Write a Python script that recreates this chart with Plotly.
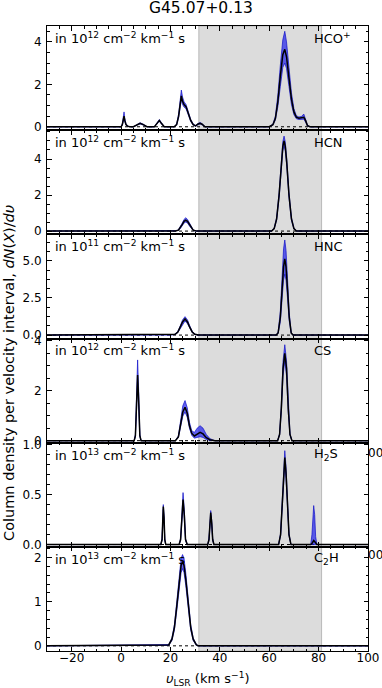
import plotly.graph_objects as go
from plotly.subplots import make_subplots

# velocity axis and panel labels
title = "G45.07+0.13"
molecules = ["HCO<sup>+</sup>", "HCN", "HNC", "CS", "H<sub>2</sub>S", "C<sub>2</sub>H"]
exponents = [12, 12, 11, 12, 13, 13]
band_v = [31.5, 81.2]

# HCO+
hcop_v = [-30, 0.0, 0.5, 0.9, 1.2, 1.5, 2.0, 2.6, 3.5, 5.0, 6.5, 7.7, 9.0, 10.5, 13.5, 14.6, 15.5, 16.4, 17.5,
          21.5, 22.5, 23.3, 23.9, 24.4, 24.9, 25.5, 26.3, 27.2, 28.2, 29.2, 30.2, 31.2, 32.0, 32.8, 34.0,
          60.0, 61.5, 62.5, 63.5, 64.5, 65.5, 66.3, 67.0, 68.0, 69.0, 70.0, 71.0, 72.0, 73.0, 74.0, 74.7, 75.5, 76.5, 100]
hcop_mid = [0, 0, 0.1, 0.35, 0.5, 0.3, 0.1, 0.03, 0, 0, 0.1, 0.16, 0.1, 0, 0, 0.15, 0.3, 0.15, 0,
            0, 0.1, 0.5, 1.1, 1.46, 1.2, 1.05, 0.95, 0.6, 0.3, 0.1, 0.04, 0.13, 0.16, 0.12, 0,
            0, 0.1, 0.4, 1.2, 2.4, 3.4, 3.65, 3.3, 2.3, 1.3, 0.7, 0.45, 0.4, 0.42, 0.45, 0.3, 0.05, 0, 0]
hcop_hi = [0, 0, 0.15, 0.5, 0.7, 0.4, 0.14, 0.04, 0, 0, 0.12, 0.19, 0.12, 0, 0, 0.18, 0.34, 0.18, 0,
           0, 0.13, 0.6, 1.35, 1.73, 1.4, 1.18, 1.05, 0.68, 0.35, 0.13, 0.06, 0.16, 0.2, 0.15, 0,
           0, 0.13, 0.5, 1.5, 2.9, 4.1, 4.5, 4.0, 2.8, 1.6, 0.85, 0.52, 0.46, 0.48, 0.6, 0.38, 0.08, 0, 0]
hcop_lo = [0, 0, 0.07, 0.27, 0.4, 0.24, 0.07, 0.02, 0, 0, 0.08, 0.13, 0.08, 0, 0, 0.12, 0.26, 0.12, 0,
           0, 0.08, 0.42, 0.95, 1.28, 1.05, 0.93, 0.85, 0.52, 0.25, 0.08, 0.02, 0.1, 0.13, 0.09, 0,
           0, 0.08, 0.32, 0.95, 1.9, 2.8, 3.0, 2.75, 1.9, 1.05, 0.57, 0.38, 0.34, 0.36, 0.36, 0.22, 0.03, 0, 0]

# HCN
hcn_v = [-30, 22.0, 23.2, 24.1, 24.8, 25.5, 26.2, 26.9, 27.6, 28.3, 29.2, 30.4,
         61.0, 62.0, 63.0, 64.0, 64.9, 65.5, 66.0, 66.5, 67.1, 68.0, 69.0, 70.0, 71.0, 100]
hcn_mid = [0, 0, 0.05, 0.2, 0.37, 0.54, 0.61, 0.54, 0.37, 0.2, 0.05, 0,
           0, 0.14, 0.68, 2.0, 3.8, 4.7, 5.0, 4.7, 3.8, 2.0, 0.68, 0.14, 0, 0]
hcn_hi = [0, 0, 0.07, 0.25, 0.45, 0.65, 0.74, 0.65, 0.45, 0.25, 0.07, 0,
          0, 0.17, 0.75, 2.15, 4.0, 4.95, 5.27, 4.95, 4.0, 2.15, 0.75, 0.17, 0, 0]
hcn_lo = [0, 0, 0.03, 0.16, 0.3, 0.45, 0.5, 0.45, 0.3, 0.16, 0.03, 0,
          0, 0.11, 0.6, 1.85, 3.6, 4.45, 4.75, 4.45, 3.6, 1.85, 0.6, 0.11, 0, 0]

# HNC
hnc_v = [-30, 20.5, 21.9, 23.0, 24.0, 24.9, 25.9, 26.9, 27.8, 28.8, 29.9, 31.3,
         62.8, 63.6, 64.5, 65.2, 65.8, 66.3, 66.8, 67.4, 68.1, 68.9, 69.6, 100]
hnc_mid = [0, 0, 0.05, 0.21, 0.53, 0.88, 1.08, 0.88, 0.53, 0.21, 0.05, 0,
           0, 0.14, 1.2, 3.1, 4.6, 5.13, 4.6, 3.1, 1.2, 0.14, 0, 0]
hnc_hi = [0, 0, 0.07, 0.26, 0.63, 1.02, 1.24, 1.02, 0.63, 0.26, 0.07, 0,
          0, 0.2, 1.6, 4.0, 5.8, 6.4, 5.7, 3.8, 1.5, 0.2, 0, 0]
hnc_lo = [0, 0, 0.03, 0.17, 0.45, 0.76, 0.95, 0.76, 0.45, 0.17, 0.03, 0,
          0, 0.1, 0.9, 2.4, 3.7, 4.1, 3.7, 2.5, 0.95, 0.1, 0, 0]

# CS
cs_v = [-30, 5.3, 5.8, 6.2, 6.7, 7.2, 7.6, 8.1,
        22.0, 23.2, 24.2, 25.0, 25.9, 26.8, 27.7, 28.6, 29.7, 30.8, 32.0, 33.2, 34.5, 36.0, 38.0,
        63.4, 64.2, 64.9, 65.6, 66.3, 67.0, 67.7, 68.4, 69.2, 100]
cs_mid = [0, 0, 0.2, 1.4, 2.63, 1.4, 0.2, 0,
          0, 0.15, 0.65, 1.15, 1.34, 1.1, 0.6, 0.3, 0.19, 0.27, 0.33, 0.27, 0.12, 0.04, 0,
          0, 0.25, 1.3, 2.9, 3.5, 2.9, 1.3, 0.25, 0, 0]
cs_hi = [0, 0, 0.25, 1.75, 3.24, 1.75, 0.25, 0,
         0, 0.19, 0.8, 1.4, 1.61, 1.32, 0.74, 0.4, 0.33, 0.5, 0.6, 0.5, 0.25, 0.08, 0,
         0, 0.28, 1.45, 3.2, 3.85, 3.2, 1.45, 0.28, 0, 0]
cs_lo = [0, 0, 0.16, 1.2, 2.3, 1.2, 0.16, 0,
         0, 0.12, 0.55, 0.98, 1.15, 0.94, 0.5, 0.22, 0.1, 0.13, 0.16, 0.13, 0.05, 0.01, 0,
         0, 0.22, 1.15, 2.6, 3.2, 2.6, 1.15, 0.22, 0, 0]

# H2S
h2s_v = [-30, 16.1, 16.6, 16.9, 17.1, 17.4, 17.7, 18.1,
         23.5, 24.1, 24.6, 25.1, 25.6, 26.1, 26.8,
         35.1, 35.6, 36.0, 36.3, 36.7, 37.1, 37.6,
         63.8, 64.6, 65.3, 65.8, 66.3, 66.8, 67.3, 68.0, 68.8,
         76.8, 77.3, 77.7, 78.0, 78.4, 78.8, 79.3, 100]
h2s_mid = [0, 0, 0.05, 0.27, 0.38, 0.27, 0.05, 0,
           0, 0.05, 0.3, 0.45, 0.3, 0.05, 0,
           0, 0.05, 0.24, 0.32, 0.22, 0.05, 0,
           0, 0.1, 0.42, 0.72, 0.87, 0.72, 0.42, 0.1, 0,
           0, 0.01, 0.03, 0.04, 0.03, 0.01, 0, 0]
h2s_hi = [0, 0, 0.06, 0.29, 0.4, 0.29, 0.06, 0,
          0, 0.06, 0.35, 0.52, 0.35, 0.06, 0,
          0, 0.06, 0.26, 0.34, 0.24, 0.06, 0,
          0, 0.11, 0.46, 0.78, 0.94, 0.78, 0.46, 0.11, 0,
          0, 0.1, 0.3, 0.39, 0.3, 0.08, 0, 0]
h2s_lo = [0, 0, 0.04, 0.25, 0.35, 0.25, 0.04, 0,
          0, 0.04, 0.26, 0.4, 0.26, 0.04, 0,
          0, 0.04, 0.22, 0.29, 0.2, 0.04, 0,
          0, 0.09, 0.38, 0.66, 0.8, 0.66, 0.38, 0.09, 0,
          0, 0, 0, 0, 0, 0, 0, 0]

# C2H
c2h_v = [-30, 19.3, 20.6, 21.6, 22.6, 23.6, 24.3, 24.9, 25.5, 26.2, 27.2, 28.2, 29.2, 30.5, 31.5, 100]
c2h_mid = [0, 0.02, 0.15, 0.42, 0.92, 1.51, 1.82, 1.91, 1.82, 1.51, 0.92, 0.42, 0.15, 0.02, 0, 0]
c2h_hi = [0, 0.03, 0.18, 0.48, 1.02, 1.65, 1.98, 2.07, 1.98, 1.65, 1.02, 0.48, 0.18, 0.03, 0, 0]
c2h_lo = [0, 0.01, 0.12, 0.36, 0.82, 1.37, 1.66, 1.75, 1.66, 1.37, 0.82, 0.36, 0.12, 0.01, 0, 0]

panels = [
    (hcop_v, hcop_mid, hcop_lo, hcop_hi),
    (hcn_v, hcn_mid, hcn_lo, hcn_hi),
    (hnc_v, hnc_mid, hnc_lo, hnc_hi),
    (cs_v, cs_mid, cs_lo, cs_hi),
    (h2s_v, h2s_mid, h2s_lo, h2s_hi),
    (c2h_v, c2h_mid, c2h_lo, c2h_hi),
]
y_ranges = [[-0.16, 4.75], [-0.18, 5.6], [-0.23, 6.78], [-0.08, 4.1], [-0.023, 1.02], [-0.117, 2.245]]
y_dticks = [2, 2, 2.5, 2, 0.5, 1]
y_minor = [0.5, 0.5, 0.625, 0.5, 0.1, 0.2]
y_fmt = ["d", "d", ".1f", "d", ".1f", "d"]

font = "DejaVu Sans"
blue_fill = "rgba(30,30,235,0.7)"
blue_edge = "rgba(20,20,200,0.9)"

fig = make_subplots(rows=6, cols=1, shared_xaxes=True, vertical_spacing=0)

for i, (v, mid, lo, hi) in enumerate(panels):
    row = i + 1
    fig.add_trace(go.Scatter(x=[-30, 100], y=[0, 0], mode="lines",
                             line=dict(color="black", width=1, dash="dot"), hoverinfo="skip"), row=row, col=1)
    fig.add_trace(go.Scatter(x=v, y=lo, mode="lines", line=dict(color=blue_edge, width=0.8),
                             hoverinfo="skip"), row=row, col=1)
    fig.add_trace(go.Scatter(x=v, y=hi, mode="lines", line=dict(color=blue_edge, width=0.8),
                             fill="tonexty", fillcolor=blue_fill, hoverinfo="skip"), row=row, col=1)
    fig.add_trace(go.Scatter(x=v, y=mid, mode="lines", line=dict(color="black", width=1.5),
                             hoverinfo="skip"), row=row, col=1)

    fig.update_yaxes(range=y_ranges[i], dtick=y_dticks[i], tick0=0, tickformat=y_fmt[i],
                     minor=dict(dtick=y_minor[i], tick0=0, ticks="inside", ticklen=2.5, tickcolor="black"),
                     row=row, col=1)

    xd = "x domain" if row == 1 else "x%d domain" % row
    yd = "y domain" if row == 1 else "y%d domain" % row
    fig.add_annotation(xref=xd, yref=yd, x=0.019, y=0.885, xanchor="left", yanchor="middle", showarrow=False,
                       text="in 10<sup>%d</sup> cm<sup>\u22122</sup> km<sup>\u22121</sup> s" % exponents[i],
                       font=dict(family=font, size=13, color="black"))
    fig.add_annotation(xref=xd, yref=yd, x=0.824, y=0.885, xanchor="left", yanchor="middle", showarrow=False,
                       text=molecules[i], font=dict(family=font, size=13, color="black"))

fig.add_vrect(x0=band_v[0], x1=band_v[1], fillcolor="rgb(220,220,220)", line=dict(color="rgb(185,185,185)", width=1),
              layer="below", row="all", col=1)

fig.update_xaxes(range=[-30, 100], dtick=20, tick0=0, showgrid=False, zeroline=False,
                 showline=True, linecolor="black", linewidth=1, mirror="ticks",
                 ticks="inside", ticklen=4.5, tickcolor="black",
                 minor=dict(dtick=5, tick0=0, ticks="inside", ticklen=2.5, tickcolor="black"),
                 ticklabelstandoff=-4, automargin=False)
fig.update_yaxes(showgrid=False, zeroline=False, showline=True, linecolor="black", linewidth=1, mirror="ticks",
                 ticks="inside", ticklen=4.5, tickcolor="black", ticklabelstandoff=2, automargin=False)

fig.add_annotation(xref="paper", yref="paper", x=0.48, y=1.029, xanchor="center", yanchor="middle",
                   showarrow=False, text=title, font=dict(family=font, size=15.5, color="black"))
fig.add_annotation(xref="paper", yref="paper", x=0.5, y=-0.045, xanchor="center", yanchor="middle",
                   showarrow=False, text="<i>\u03c5</i><sub>LSR</sub> (km s<sup>\u22121</sup>)",
                   font=dict(family=font, size=13, color="black"))
fig.add_annotation(xref="paper", yref="paper", x=-0.118, y=0.445, xanchor="center", yanchor="middle",
                   showarrow=False, textangle=-90,
                   text="Column density per velocity interval, <i>dN</i>(<i>X</i>)/<i>d\u03c5</i>",
                   font=dict(family=font, size=14.5, color="black"))
for yy in [0.3168, 0.1536]:
    fig.add_annotation(xref="paper", yref="paper", x=1.0, y=yy, xanchor="left", yanchor="middle", xshift=-2,
                       showarrow=False, text="00", font=dict(family=font, size=12, color="black"))

fig.update_layout(width=382, height=688, showlegend=False, plot_bgcolor="white", paper_bgcolor="white",
                  margin=dict(l=47, r=14, t=26, b=37), hovermode=False,
                  font=dict(family=font, size=12, color="black"))

# drop the default 8 px page margin so the figure fills the window
fig.write_html("out.html", config={"displayModeBar": False},
               post_script="document.body.style.margin = '0px';")
